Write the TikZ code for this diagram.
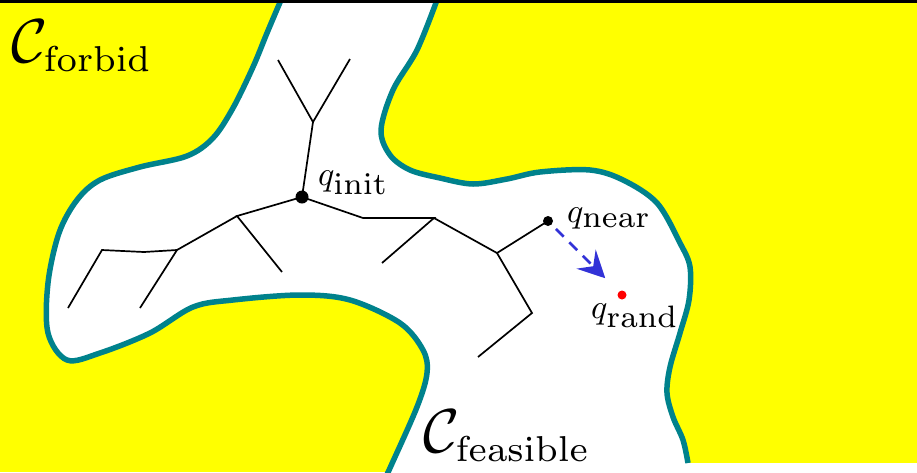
\documentclass[tikz,border=0pt]{standalone}
\DeclareFontShape{OML}{cmm}{m}{it}{<->cmmi10}{}
\DeclareFontShape{OMS}{cmsy}{m}{n}{<->cmsy10}{}
\DeclareFontShape{OT1}{cmr}{m}{n}{<->cmr7}{}
\usetikzlibrary{arrows.meta}
\DeclareMathSizes{34}{34}{31}{20}
\DeclareMathSizes{62}{62}{36}{28}
\definecolor{teal1}{RGB}{0,130,140}
\definecolor{yel}{RGB}{255,255,0}
\definecolor{arrblue}{RGB}{50,50,215}
\begin{document}
\begin{tikzpicture}[x=1pt,y=-1pt,
  bound/.style={draw=teal1,line width=5.5pt},
  edge/.style={line width=1.7pt,black},
  vtx/.style={circle,fill=black,inner sep=0pt,minimum size=#1},
  lbl/.style={inner sep=0pt,anchor=base west,font=\fontsize{34}{40}\selectfont},
  biglbl/.style={inner sep=0pt,anchor=base west,font=\fontsize{62}{72}\selectfont},
  moveto/.style={draw=arrblue,line width=2.5pt,dash pattern=on 11pt off 8pt,
     -{Stealth[length=27pt,width=27pt,inset=10pt,sep=0pt]}}]
\useasboundingbox (0,0) rectangle (917,472);
% background
\fill[yel] (0,0) rectangle (917,472);
\fill[white] plot[smooth,tension=0.55] coordinates {(281,0) (267,33) (253,67) (233,108) (213,138) (187,156) (140,167) (100,180) (77,200) (59,233) (48,283) (48,333) (67,360) (100,353) (150,333) (193,307) (233,300) (300,295) (350,300) (400,323) (423,350) (427,373) (417,407) (390,468) (388,472)}
  -- (689,472) --
  plot[smooth,tension=0.55] coordinates {(688,463) (683,440) (673,417) (667,393) (670,367) (680,333) (689,300) (690,267) (680,243) (657,203) (623,180) (590,170) (540,172) (507,179) (473,184) (440,178) (410,170) (390,155) (381,130) (393,90) (417,50) (437,0)} -- cycle;
\fill[white] (600,463) rectangle (917,472);
% boundaries
\draw[bound] plot[smooth,tension=0.55] coordinates {(281,0) (267,33) (253,67) (233,108) (213,138) (187,156) (140,167) (100,180) (77,200) (59,233) (48,283) (48,333) (67,360) (100,353) (150,333) (193,307) (233,300) (300,295) (350,300) (400,323) (423,350) (427,373) (417,407) (390,468) (388,472)};
\draw[bound] plot[smooth,tension=0.55] coordinates {(688,463) (683,440) (673,417) (667,393) (670,367) (680,333) (689,300) (690,267) (680,243) (657,203) (623,180) (590,170) (540,172) (507,179) (473,184) (440,178) (410,170) (390,155) (381,130) (393,90) (417,50) (437,0)};
% top rule
\draw[line width=2.5pt] (0,1.25) -- (917,1.25);
% tree vertices
\coordinate (a1) at (313,122);
\coordinate (a2) at (278,60);
\coordinate (a3) at (350,59);
\coordinate (b1) at (237,216);
\coordinate (b2) at (282,272);
\coordinate (b3) at (177,250);
\coordinate (b4) at (140,308);
\coordinate (b5) at (144,252);
\coordinate (b6) at (102,250);
\coordinate (b7) at (68,308);
\coordinate (c1) at (363,218);
\coordinate (c2) at (434,218);
\coordinate (c3) at (382,263);
\coordinate (c4) at (497,253);
\coordinate (c5) at (532,313);
\coordinate (c6) at (478,357);
\coordinate (qi) at (302,197);
\coordinate (qn) at (548,221);
% tree edges
\draw[edge] (a2) -- (a1) -- (a3);
\draw[edge] (a1) -- (qi);
\draw[edge] (qi) -- (b1) -- (b2);
\draw[edge] (b1) -- (b3) -- (b4);
\draw[edge] (b3) -- (b5) -- (b6) -- (b7);
\draw[edge] (qi) -- (c1) -- (c2) -- (c3);
\draw[edge] (c2) -- (c4) -- (qn);
\draw[edge] (c4) -- (c5) -- (c6);
% dots
\node[vtx=13pt] (qinit) at (qi) {};
\node[vtx=10pt] (qnear) at (qn) {};
\node[circle,fill=red,inner sep=0pt,minimum size=9pt] (qrand) at (622,295) {};
% extension arrow
\draw[moveto,shorten <=6pt,shorten >=19pt] (qnear) -- (qrand);
% labels
\node[lbl] (linit) at (318,185) {$q_{\mathrm{init}}$};
\node[lbl] (lnear) at (567,222) {$q_{\mathrm{near}}$};
\node[lbl] (lrand) at (591,318) {$q_{\mathrm{rand}}$};
\node[biglbl] (lforbid) at (11,62) {$\mathcal{C}_{\mathrm{forbid}}$};
\node[biglbl] (lfeas) at (423,452) {$\mathcal{C}_{\mathrm{feasible}}$};
\end{tikzpicture}
\end{document}
